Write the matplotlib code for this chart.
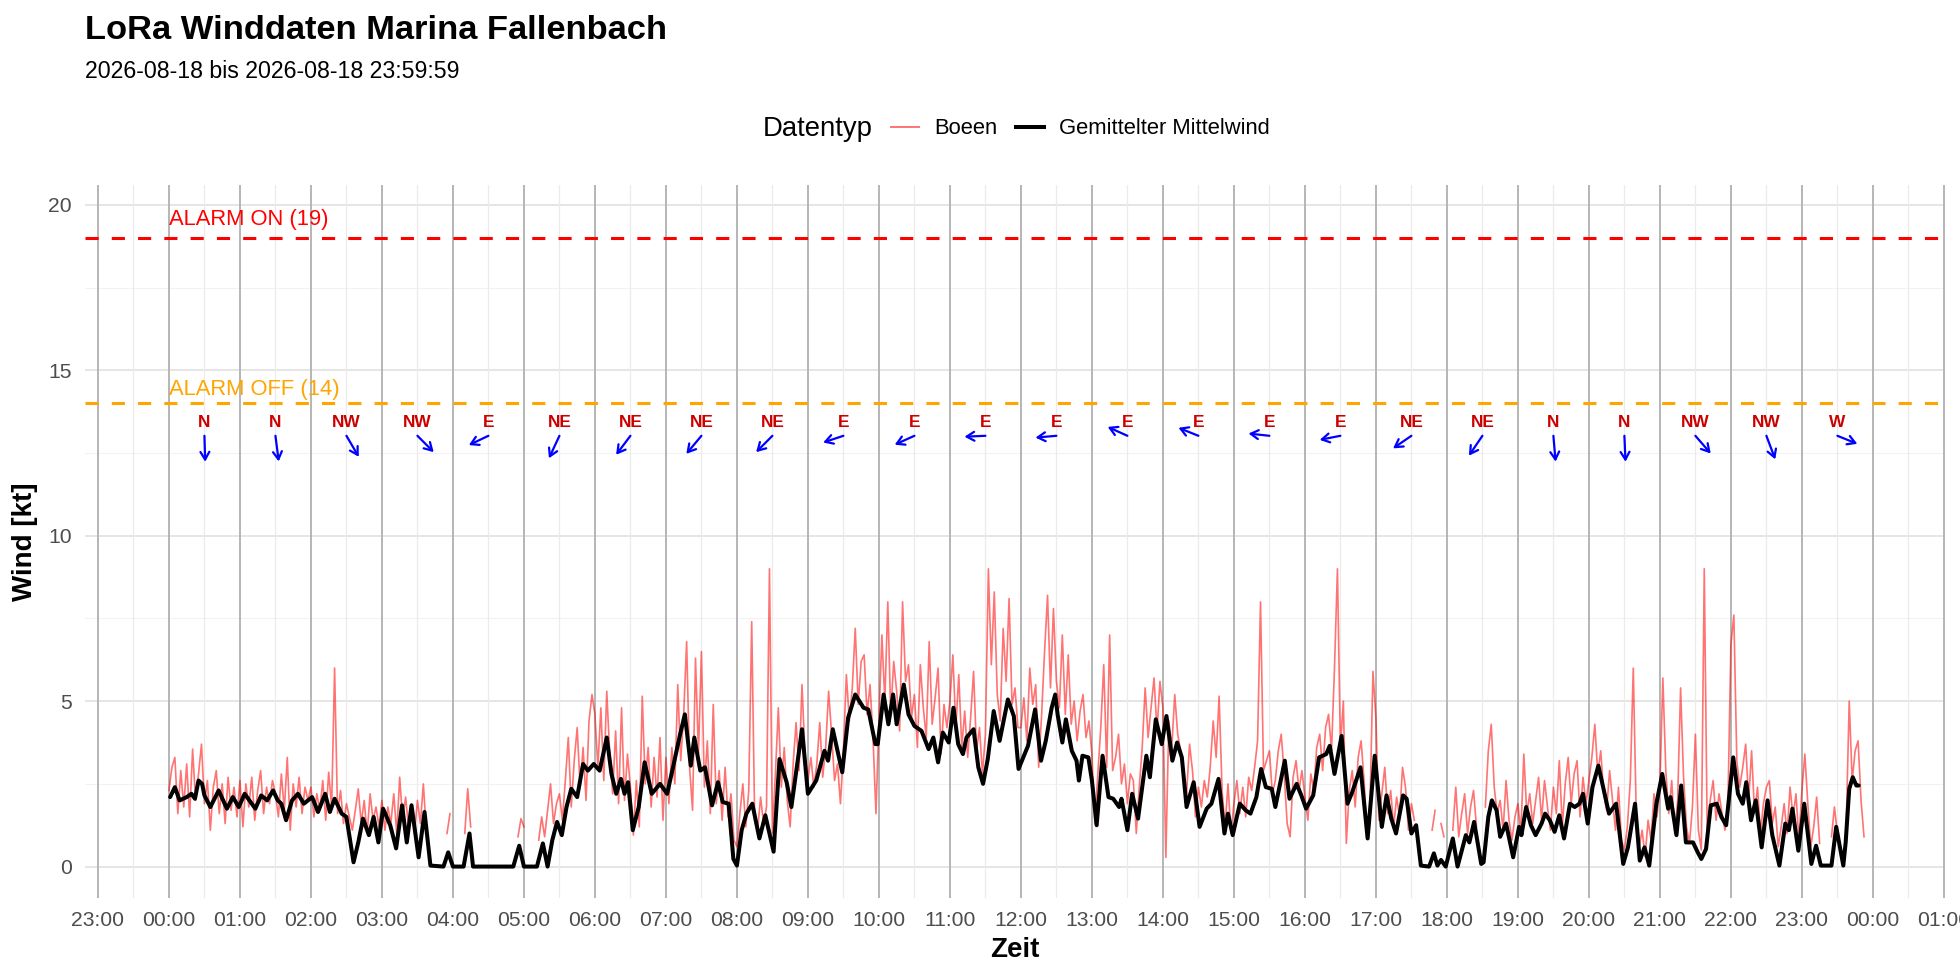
import numpy as np
import matplotlib.pyplot as plt
from matplotlib.lines import Line2D

plt.rcParams['font.family'] = ['Liberation Sans', 'DejaVu Sans']

nan = float('nan')

# Mittelwind: Minuten seit 00:00 und Wert in kt
mean_min = [
    1, 5, 9, 15, 19, 22, 25, 28, 30, 35, 42, 49, 54, 59, 64, 73, 78, 83, 88, 92, 95, 99,
    104, 109, 114, 121, 126, 132, 136, 140, 146, 150, 156, 160, 164, 169, 173, 177, 181,
    187, 192, 197, 201, 205, 211, 216, 221, 232, 236, 240, 249, 254, 257, 291, 296, 300,
    311, 316, 320, 324, 328, 332, 336, 340, 345, 350, 354, 359,
    364, 370, 374, 378, 382, 385, 388, 392, 397, 402, 408, 415, 421, 426, 432, 436, 441,
    444, 449, 453, 459, 464, 468, 473, 477, 480, 484, 488, 493, 499, 504, 511, 516, 522,
    526, 535, 540, 547, 554, 557, 561, 569, 574, 580, 587, 591, 597, 599, 604, 608, 612,
    615, 621, 625, 630, 636, 642, 646, 650, 654, 659, 663, 667, 671, 674, 680, 684, 688,
    692, 697, 702, 709, 714, 718, 722, 726, 732, 737,
    741, 746, 749, 751, 755, 758, 763, 767, 769, 772, 777, 780, 784, 789, 794, 798, 803,
    805, 810, 814, 819, 826, 829, 834, 839, 843, 848, 852, 856, 860, 866, 871, 877, 881,
    887, 892, 895, 899, 905, 910, 914, 919, 923, 927, 932, 935, 943, 947, 953, 957, 961,
    967, 972, 978, 981, 985, 991, 996, 1000, 1007, 1013, 1019, 1025, 1029, 1033, 1037,
    1043, 1046, 1050, 1054, 1058, 1065, 1069, 1072, 1075, 1079, 1085, 1089, 1096, 1099,
    1103, 1109,
    1111, 1115, 1118, 1122, 1125, 1130, 1136, 1141, 1143, 1147, 1151, 1155, 1160, 1163,
    1167, 1171, 1175, 1179, 1184, 1188, 1192, 1195, 1199, 1203, 1208, 1212, 1217, 1223,
    1229, 1233, 1239, 1243, 1247, 1251, 1257, 1262, 1267, 1269, 1274, 1278, 1282, 1288,
    1292, 1295, 1299, 1303, 1308, 1312, 1316, 1322, 1326, 1330, 1333, 1337, 1341, 1346,
    1351, 1355, 1361, 1366, 1369, 1372, 1377, 1382, 1388, 1392, 1396, 1405, 1409, 1415,
    1417, 1420, 1423, 1426, 1428,
]
mean_kt = [
    2.1, 2.4, 2.0, 2.1, 2.2, 2.05, 2.6, 2.5, 2.15, 1.8, 2.3, 1.75, 2.1, 1.8, 2.2, 1.75, 2.15,
    2.0, 2.3, 2.0, 1.9, 1.4, 2.0, 2.2, 1.9, 2.1, 1.65, 2.2, 1.65, 2.05, 1.6, 1.5, 0.13, 0.73,
    1.45, 0.95, 1.5, 0.73, 1.75, 1.25, 0.55, 1.85, 0.73, 1.85, 0.28, 1.65, 0.03, 0.0, 0.43,
    0.0, 0.0, 1.0, 0.0, 0.0, 0.63, 0.0, 0.0, 0.7, 0.0, 0.8, 1.35, 0.95, 1.8, 2.35, 2.1, 3.1,
    2.9, 3.1,
    2.9, 3.9, 2.8, 2.2, 2.65, 2.2, 2.55, 1.1, 1.8, 3.15, 2.2, 2.5, 2.2, 3.0, 4.0, 4.6, 3.05,
    3.9, 2.9, 3.0, 1.85, 2.55, 1.95, 1.9, 0.23, 0.03, 1.1, 1.6, 1.9, 0.85, 1.55, 0.45, 3.25,
    2.55, 1.8, 4.15, 2.2, 2.6, 3.5, 3.2, 4.15, 2.85, 4.5, 5.2, 4.8, 4.75, 3.7, 3.7, 5.2, 4.3,
    5.2, 4.3, 5.5, 4.6, 4.25, 4.1, 3.55, 3.9, 3.15, 4.05, 3.75, 4.8, 3.7, 3.4, 3.9, 4.15,
    3.0, 2.5, 3.25, 4.7, 3.8, 5.05, 4.55, 2.95, 3.3, 3.65, 4.75, 3.2,
    3.8, 4.8, 5.2, 4.6, 3.75, 4.45, 3.5, 3.2, 2.6, 3.35, 3.3, 2.6, 1.25, 3.35, 2.1, 2.05,
    1.8, 2.05, 1.1, 2.2, 1.45, 3.35, 2.7, 4.45, 3.7, 4.55, 3.2, 3.75, 3.3, 1.8, 2.55, 1.2,
    1.75, 1.9, 2.65, 1.0, 1.6, 0.95, 1.9, 1.7, 1.6, 2.1, 2.95, 2.4, 2.35, 1.8, 3.2, 2.05,
    2.5, 2.15, 1.75, 2.15, 3.3, 3.4, 3.65, 2.8, 3.95, 1.9, 2.25, 3.0, 0.85, 3.35, 1.2, 2.15,
    1.45, 1.0, 2.15, 2.05, 1.0, 1.25, 0.03, 0.0, 0.4, 0.03, 0.2, 0.0, 0.85, 0.0, 0.95, 0.73,
    1.35, 0.08,
    0.13, 1.5, 2.0, 1.7, 0.9, 1.3, 0.28, 1.2, 0.95, 1.8, 1.25, 0.95, 1.3, 1.6, 1.4, 1.05,
    1.55, 0.85, 1.9, 1.8, 1.9, 2.2, 1.3, 2.4, 3.05, 2.4, 1.6, 1.9, 0.08, 0.58, 1.9, 0.18,
    0.58, 0.03, 1.9, 2.8, 1.75, 2.1, 0.95, 2.45, 0.73, 0.73, 0.43, 0.23, 0.53, 1.85, 1.9,
    1.5, 1.25, 3.3, 2.2, 1.9, 2.55, 1.4, 2.0, 0.58, 2.0, 0.95, 0.03, 1.3, 1.1, 1.75, 0.48,
    1.9, 0.08, 0.63, 0.03, 0.03, 1.2, 0.03, 0.73, 2.35, 2.7, 2.45, 2.45,
]

# Boeen: alle 2,5 Minuten, eine Zeile je Stunde (00 bis 23)
gust_step_min = 2.5
gust_kt = [
    2.3, 3.0, 3.3, 1.6, 2.9, 1.8, 3.1, 1.5, 3.55, 2.0, 2.8, 3.7, 1.9, 2.6, 1.1, 2.4, 2.9, 1.6, 2.5, 1.3, 2.7, 1.7, 2.4, 1.5,
    2.6, 1.2, 2.5, 1.8, 2.7, 1.4, 2.3, 2.9, 1.6, 2.4, 1.9, 2.6, 2.2, 1.5, 2.8, 1.7, 3.3, 1.1, 2.5, 1.8, 2.7, 1.6, 2.4, 2.0,
    2.4, 1.5, 2.2, 1.7, 2.6, 1.4, 2.85, 1.8, 6.0, 1.6, 2.3, 1.3, 1.9, 1.5, 1.1, 1.7, 2.35, 1.3, 2.0, 1.0, 2.2, 1.4, 1.8, 1.2,
    2.0, 1.1, 1.8, 1.3, 2.2, 1.0, 2.7, 1.4, 2.1, 1.2, 1.9, 1.0, 2.0, 1.3, 2.5, 1.1, nan, nan, nan, nan, nan, nan, 1.0, 1.6,
    nan, nan, nan, nan, 1.0, 2.35, 1.2, nan, nan, nan, nan, nan, nan, nan, nan, nan, nan, nan, nan, nan, nan, nan, 0.9, 1.45,
    1.2, nan, nan, nan, nan, 0.8, 1.5, 0.9, 1.7, 2.5, 1.3, 1.9, 2.2, 1.4, 2.6, 3.9, 1.8, 3.2, 4.2, 2.4, 3.6, 2.0, 4.4, 5.2,
    4.6, 3.0, 4.8, 2.6, 5.3, 3.4, 2.2, 4.1, 1.9, 4.8, 2.0, 3.4, 2.4, 0.95, 2.6, 1.2, 5.15, 2.5, 3.6, 1.8, 3.3, 2.1, 3.9, 1.4,
    3.3, 1.9, 3.6, 2.5, 5.5, 3.2, 4.6, 6.8, 3.0, 1.7, 6.3, 3.4, 6.5, 2.4, 3.8, 1.6, 4.9, 1.9, 2.9, 1.4, 3.0, 1.5, 2.2, 0.8,
    0.6, 1.6, 2.5, 1.2, 2.3, 7.4, 1.4, 1.1, 2.1, 1.3, 1.8, 9.0, 1.0, 2.8, 4.8, 2.4, 3.6, 2.0, 1.2, 3.1, 4.35, 2.9, 5.5, 3.4,
    2.6, 3.3, 2.4, 3.1, 4.35, 2.7, 3.6, 5.3, 4.0, 2.6, 3.1, 1.9, 3.5, 5.8, 4.4, 5.4, 7.2, 4.9, 6.2, 6.4, 4.6, 5.5, 3.9, 1.6,
    4.4, 7.0, 5.0, 8.0, 4.6, 6.2, 5.3, 4.1, 8.0, 5.6, 6.1, 4.5, 5.2, 3.6, 6.1, 4.8, 3.9, 6.8, 4.3, 5.1, 6.0, 3.4, 4.9, 4.2,
    5.0, 6.4, 4.2, 5.8, 3.6, 4.7, 3.3, 4.5, 5.9, 3.5, 4.2, 2.8, 4.0, 9.0, 6.1, 8.3, 5.2, 4.4, 7.2, 5.6, 8.1, 4.9, 5.4, 4.2,
    4.2, 5.1, 3.8, 6.0, 4.9, 5.5, 3.0, 4.6, 6.5, 8.2, 5.4, 7.8, 5.6, 4.8, 7.0, 4.6, 6.4, 4.3, 5.0, 3.8, 4.7, 5.2, 3.9, 4.4,
    3.4, 1.3, 2.8, 4.2, 6.1, 3.0, 7.0, 2.9, 3.3, 4.0, 2.5, 3.1, 1.9, 2.8, 2.6, 1.0, 2.4, 3.6, 5.4, 3.9, 4.8, 5.7, 4.1, 5.6,
    4.8, 0.28, 4.4, 3.6, 5.2, 4.0, 3.5, 2.6, 2.2, 3.7, 2.9, 1.5, 2.4, 1.8, 2.6, 2.1, 3.0, 4.4, 3.3, 5.15, 2.3, 1.2, 2.5, 1.0,
    1.9, 2.6, 1.6, 2.4, 1.5, 2.7, 2.3, 3.0, 3.8, 8.0, 2.9, 3.2, 3.5, 2.2, 2.6, 3.5, 4.0, 2.8, 1.3, 0.9, 2.7, 3.2, 2.3, 2.9,
    2.1, 1.4, 2.8, 2.3, 3.6, 4.0, 2.9, 4.2, 4.6, 3.5, 6.0, 9.0, 3.6, 5.0, 0.7, 2.3, 2.9, 1.8, 3.3, 3.8, 2.6, 1.0, 1.8, 5.9,
    4.5, 1.4, 2.2, 3.0, 1.6, 2.3, 1.2, 2.1, 1.5, 3.0, 2.4, 1.1, 1.9, 1.4, nan, nan, nan, nan, nan, 1.1, 1.7, nan, 1.3, 0.9,
    nan, nan, 1.1, 2.4, 0.9, 1.6, 2.2, 1.0, 1.8, 2.3, 1.2, nan, nan, 1.8, 3.5, 4.3, 2.4, 1.6, 2.0, 1.1, 2.6, 1.4, 0.8, 1.5,
    1.9, 1.0, 3.4, 1.6, 2.2, 1.3, 2.0, 2.7, 1.4, 2.6, 1.8, 1.1, 2.4, 1.6, 3.2, 1.2, 2.5, 3.3, 1.9, 2.8, 3.2, 1.5, 2.7, 1.9,
    2.6, 3.3, 4.3, 2.8, 3.5, 2.2, 1.7, 2.9, 2.0, 1.1, 2.4, 0.8, 0.5, 1.2, 2.6, 6.0, 1.6, 0.6, 1.1, 0.3, 1.4, 0.8, 2.2, 1.5,
    2.4, 5.7, 2.9, 1.6, 2.6, 1.0, 2.0, 5.4, 2.7, 1.2, 0.7, 1.8, 4.0, 1.1, 0.5, 9.0, 1.0, 2.0, 2.6, 1.4, 2.2, 1.6, 1.1, 1.9,
    6.7, 7.6, 3.2, 2.4, 3.0, 3.7, 2.0, 3.5, 1.6, 2.4, 1.0, 1.9, 2.4, 2.6, 1.3, 1.8, 0.6, 1.2, 1.9, 1.0, 2.4, 1.5, 2.2, 0.8,
    2.3, 3.4, 1.9, 0.6, 1.2, 2.1, 0.7, nan, nan, nan, 0.9, 1.8, 1.0, nan, nan, 1.3, 5.0, 2.6, 3.5, 3.8, 2.0, 0.9, nan, nan,
]

# Windrichtung je Stunde (Stundenmitte), Herkunft in Grad
dir_labels = ['N', 'N', 'NW', 'NW', 'E', 'NE', 'NE', 'NE', 'NE', 'E', 'E', 'E',
              'E', 'E', 'E', 'E', 'E', 'NE', 'NE', 'N', 'N', 'NW', 'NW', 'W']
dir_deg = [358, 351, 324, 309, 69, 30, 43, 46, 51, 75, 70, 88,
           86, 110, 108, 95, 81, 61, 40, 354, 357, 313, 335, 288]

alarm_on = 19
alarm_off = 14

title = 'LoRa Winddaten Marina Fallenbach'
subtitle = '2026-08-18 bis 2026-08-18 23:59:59'

# ---------------------------------------------------------------
fig = plt.figure(figsize=(19.6, 9.8), dpi=100)
ax = fig.add_axes([0.04316, 0.08367, 0.94898, 0.72755])
ax.set_xlim(-1.188, 25.01)
ax.set_ylim(-0.95, 20.6)

# Gitter
for y in [2.5, 7.5, 12.5, 17.5]:
    ax.axhline(y, color='#F2F2F2', lw=0.8, zorder=0)
for y in [0, 5, 10, 15, 20]:
    ax.axhline(y, color='#DEDEDE', lw=1.1, zorder=0)
for h in np.arange(-0.5, 25, 1):
    ax.axvline(h, color='#EBEBEB', lw=0.9, zorder=0)
for h in range(-1, 26):
    ax.axvline(h, color='#B5B5B5', lw=1.4, zorder=1)

gust = np.array(gust_kt, dtype=float)
gust_t = np.arange(len(gust)) * gust_step_min / 60
ax.plot(gust_t, gust, color='red', alpha=0.55, lw=1.2, zorder=2)
ax.plot(np.array(mean_min) / 60, mean_kt, color='black', lw=2.9, zorder=3,
        solid_joinstyle='round', solid_capstyle='round')

# Alarmschwellen
ax.axhline(alarm_on, color='red', lw=2.2, ls=(0, (4.3, 4.3)), zorder=4)
ax.axhline(alarm_off, color='orange', lw=2.2, ls=(0, (4.3, 4.3)), zorder=4)
ax.text(0, alarm_on + 0.55, f'ALARM ON ({alarm_on})', color='red', fontsize=15.8,
        ha='left', va='center')
ax.text(0, alarm_off + 0.42, f'ALARM OFF ({alarm_off})', color='orange', fontsize=15.8,
        ha='left', va='center')

# Richtungspfeile
for i, (lab, deg) in enumerate(zip(dir_labels, dir_deg)):
    x = i + 0.5
    ax.text(x, 13.43, lab, color='#CD0000', fontsize=12.4, fontweight='bold',
            ha='center', va='center', zorder=5)
    rad = np.deg2rad(deg)
    dx = -np.sin(rad) * 15.1
    dy = -np.cos(rad) * 18.7
    ax.annotate('', xy=(x, 13.02), xytext=(dx, dy), textcoords='offset points',
                arrowprops=dict(arrowstyle='<-, head_length=0.55, head_width=0.32',
                                color='blue', lw=1.6, shrinkA=0, shrinkB=0),
                zorder=5)

# Achsen
ax.set_xticks(range(-1, 26))
ax.set_xticklabels([f'{h % 24:02d}:00' for h in range(-1, 26)])
ax.set_yticks([0, 5, 10, 15, 20])
ax.tick_params(length=0, pad=9, labelsize=15.2, labelcolor='#4D4D4D')
for s in ax.spines.values():
    s.set_visible(False)

fig.text(25 / 1960, 0.4474, 'Wind [kt]', rotation=90, fontsize=20, fontweight='bold',
         ha='center', va='center')
fig.text(0.5178, 0.0306, 'Zeit', fontsize=20, fontweight='bold', ha='center', va='center')

# Titel
fig.text(0.04316, 1 - 39 / 980, title, fontsize=24.8, fontweight='bold', va='baseline')
fig.text(0.04316, 1 - 78 / 980, subtitle, fontsize=16.7, va='baseline')

# Legende
fig.text(873 / 1960, 1 - 129 / 980, 'Datentyp', fontsize=19.8, ha='right', va='center')
handles = [Line2D([], [], color='red', alpha=0.55, lw=1.4),
           Line2D([], [], color='black', lw=2.9)]
fig.legend(handles, ['Boeen', 'Gemittelter Mittelwind'], loc='center left',
           bbox_to_anchor=(891 / 1960, 1 - 129 / 980), ncol=2, frameon=False,
           fontsize=15.8, handlelength=1.27, handletextpad=0.68, columnspacing=0.86,
           borderpad=0, borderaxespad=0)

fig.savefig('out.png', dpi=100)
